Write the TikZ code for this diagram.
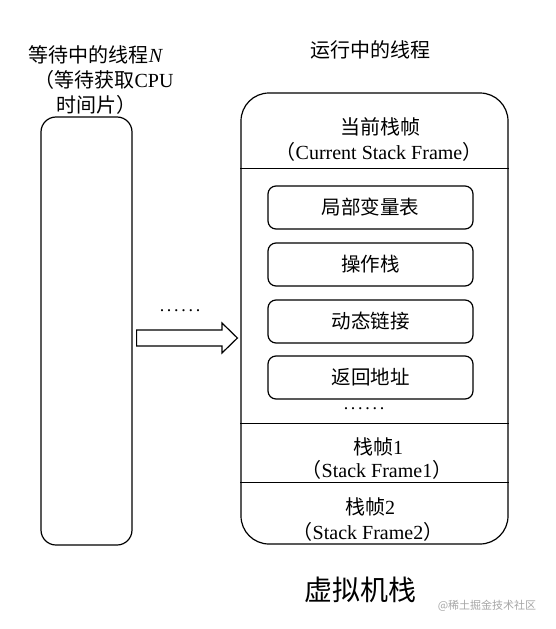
\documentclass[tikz,border=0pt]{standalone}
\usepackage{fontspec}
\setmainfont{Liberation Serif}
\newfontfamily\cjk{Noto Sans CJK SC}
\begin{document}
\begin{tikzpicture}[x=1pt,y=-1pt,
  box/.style={draw, line width=1.2pt},
  lbl/.style={inner sep=0pt, font=\fontsize{20}{22}\selectfont},
  dots/.style={inner sep=0pt, font=\fontsize{18}{22}\selectfont},
  inbox/.style={box, rounded corners=8, minimum width=205, minimum height=43, inner sep=0pt, font=\fontsize{19.5}{22}\selectfont}]
\useasboundingbox (0,0) rectangle (556,629);
% left waiting thread
\node[box, rounded corners=15, minimum width=91, minimum height=428, inner sep=0pt] (wait) at (86.5,331) {};
\node[lbl] (t1) at (96,55) {{\cjk 等待中的线程}\textit{N}};
\node[lbl] (t2) at (104,80) {{\cjk （等待获取}CPU};
\node[lbl] (t3) at (96,105) {{\cjk 时间片）}};
% running thread
\node[lbl] (t4) at (370,50) {{\cjk 运行中的线程}};
\node[box, rounded corners=28, minimum width=267, minimum height=451, inner sep=0pt] (stack) at (374.5,318.5) {};
\draw[line width=0.8pt] (stack.west |- 0,168) -- (stack.east |- 0,168);
\draw[line width=0.8pt] (stack.west |- 0,423) -- (stack.east |- 0,423);
\draw[line width=0.8pt] (stack.west |- 0,482) -- (stack.east |- 0,482);
\node[lbl] (c1) at (380,127) {{\cjk 当前栈帧}};
\node[lbl] (c2) at (379,152) {{\cjk （}Current Stack Frame{\cjk ）}};
\node[inbox] (b1) at (370.5,207.5) {\cjk 局部变量表};
\node[inbox] (b2) at (370.5,264.5) {\cjk 操作栈};
\node[inbox] (b3) at (370.5,321.5) {\cjk 动态链接};
\node[inbox] (b4) at (370.5,377.5) {\cjk 返回地址};
\node[dots] (d1) at (364,409) {\addfontfeature{LetterSpace=15}......};
\node[lbl] (f1) at (378,447) {{\cjk 栈帧}1};
\node[lbl] (f2) at (377,470) {{\cjk （}Stack Frame1{\cjk ）}};
\node[lbl] (g1) at (370,507) {{\cjk 栈帧}2};
\node[lbl] (g2) at (368,532) {{\cjk （}Stack Frame2{\cjk ）}};
\node[inner sep=0pt, font=\fontsize{28}{30}\selectfont] (title) at (360,590) {\cjk 虚拟机栈};
\node[inner sep=0pt, text=black!35, font=\fontsize{11}{12}\selectfont] (wm) at (487,606) {\cjk @稀土掘金技术社区};
% arrow
\node[dots] (d2) at (180,311) {\addfontfeature{LetterSpace=15}......};
\path (wait.east |- 0,338) ++(4,0) coordinate (tail);
\path (stack.west |- 0,338) ++(-3,0) coordinate (tip);
\draw[line width=1.2pt, line join=miter]
  (tail) ++(0,-8) -- (222,330) -- (222,323) -- (tip) -- (222,353) -- (222,346) -- ([yshift=-8]tail) -- cycle;
\end{tikzpicture}
\end{document}
